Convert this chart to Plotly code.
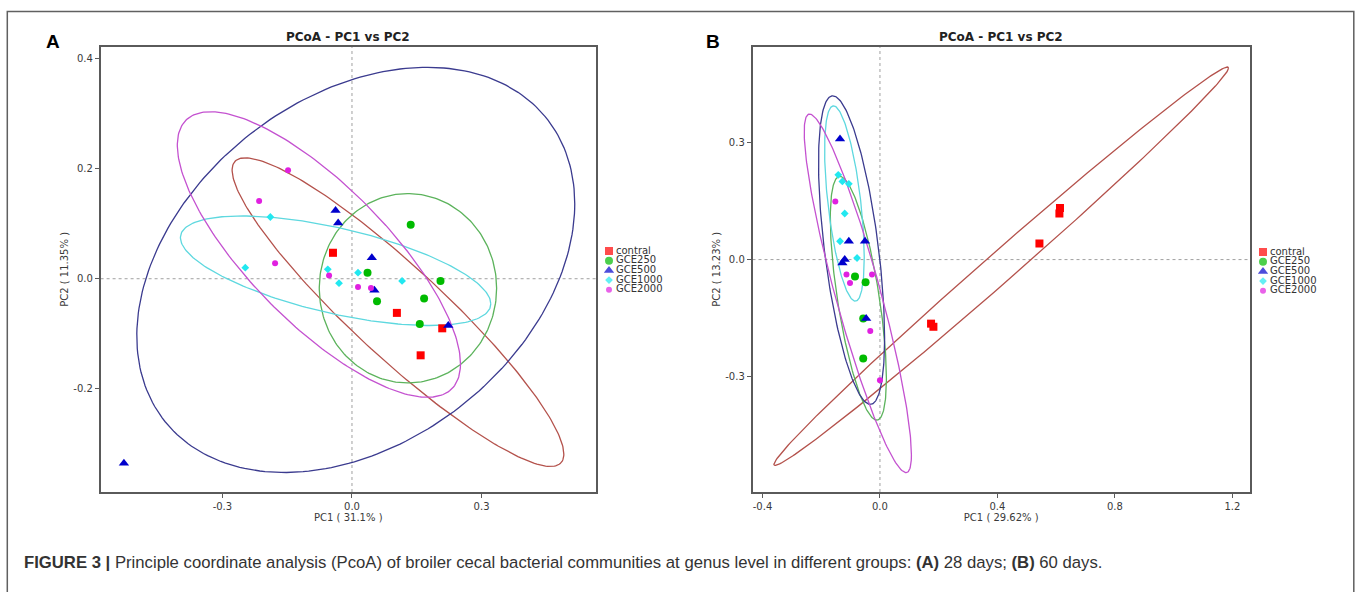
import numpy as np
import plotly.graph_objects as go

# ---------------- data ----------------
GROUPS = ["contral", "GCE250", "GCE500", "GCE1000", "GCE2000"]
MARKER_COLORS = ["#ff0000", "#00bb00", "#0000cc", "#22e8f0", "#e020e0"]
ELLIPSE_COLORS = ["#b4524c", "#5cb35c", "#3b3b8f", "#5ed8df", "#c452d0"]
SYMBOLS = ["square", "circle", "triangle-up", "diamond", "circle"]
SIZES = [8, 8, 9, 6, 6]

# Panel A (28 days)
A_CONTRAL_PC1 = [-0.044, 0.104, 0.209, 0.159]
A_CONTRAL_PC2 = [0.047, -0.062, -0.090, -0.139]
A_GCE250_PC1 = [0.136, 0.036, 0.205, 0.167, 0.058, 0.157]
A_GCE250_PC2 = [0.098, 0.011, -0.004, -0.036, -0.041, -0.082]
A_GCE500_PC1 = [-0.528, -0.038, -0.032, 0.046, 0.052, 0.223]
A_GCE500_PC2 = [-0.335, 0.124, 0.101, 0.038, -0.021, -0.085]
A_GCE1000_PC1 = [-0.247, -0.189, -0.056, -0.030, 0.014, 0.116]
A_GCE1000_PC2 = [0.020, 0.112, 0.017, -0.008, 0.011, -0.004]
A_GCE2000_PC1 = [-0.148, -0.215, -0.178, -0.053, 0.014, 0.044]
A_GCE2000_PC2 = [0.197, 0.141, 0.028, 0.006, -0.015, -0.017]

# Panel A ellipses: centre, half-width, half-height, PC2 offset of the rightmost point
A_ELL_CX = [0.1065, 0.1296, 0.0088, -0.0379, -0.0766]
A_ELL_CY = [-0.0606, -0.0173, 0.0160, 0.0145, 0.0439]
A_ELL_HW = [0.384, 0.2053, 0.507, 0.3593, 0.3278]
A_ELL_HH = [0.280, 0.1718, 0.3676, 0.0994, 0.2591]
A_ELL_RY = [-0.2576, 0.0, 0.120, -0.060, -0.1985]

# Panel B (60 days)
B_CONTRAL_PC1 = [0.174, 0.182, 0.543, 0.613, 0.611]
B_CONTRAL_PC2 = [-0.164, -0.172, 0.041, 0.132, 0.118]
B_GCE250_PC1 = [-0.085, -0.049, -0.057, -0.057]
B_GCE250_PC2 = [-0.043, -0.058, -0.151, -0.253]
B_GCE500_PC1 = [-0.136, -0.106, -0.051, -0.120, -0.128, -0.047]
B_GCE500_PC2 = [0.309, 0.047, 0.047, 0.000, -0.009, -0.151]
B_GCE1000_PC1 = [-0.142, -0.128, -0.106, -0.120, -0.136, -0.078]
B_GCE1000_PC2 = [0.217, 0.200, 0.194, 0.118, 0.047, 0.004]
B_GCE2000_PC1 = [-0.152, -0.114, -0.102, -0.027, -0.033, 0.000]
B_GCE2000_PC2 = [0.149, -0.038, -0.060, -0.038, -0.183, -0.309]

B_ELL_CX = [0.413, -0.0736, -0.0967, -0.121, -0.0754]
B_ELL_CY = [-0.017, -0.0989, 0.0243, 0.1436, -0.0865]
B_ELL_HW = [0.774, 0.0955, 0.1125, 0.0675, 0.1825]
B_ELL_HH = [0.510, 0.312, 0.395, 0.250, 0.459]
B_ELL_RY = [0.5075, -0.205, -0.224, -0.1375, -0.413]

A_XTICKS = [-0.3, 0.0, 0.3]
A_YTICKS = [0.4, 0.2, 0.0, -0.2]
B_XTICKS = [-0.4, 0.0, 0.4, 0.8, 1.2]
B_YTICKS = [0.3, 0.0, -0.3]
A_XTITLE = "PC1 ( 31.1% )"
A_YTITLE = "PC2 ( 11.35% )"
B_XTITLE = "PC1 ( 29.62% )"
B_YTITLE = "PC2 ( 13.23% )"
PANEL_TITLE = "PCoA - PC1 vs PC2"
CAPTION = ("<b>FIGURE 3 |</b> Principle coordinate analysis (PcoA) of broiler cecal bacterial "
           "communities at genus level in different groups: <b>(A)</b> 28 days; <b>(B)</b> 60 days.")

# ---------------- figure ----------------
W, H = 1357, 592
def px_x(p):
    return p / W
def px_y(p):
    return 1 - p / H

fig = go.Figure()

def ellipse(cx, cy, hw, hh, ry):
    d = np.arccos(np.clip(ry / hh, -1, 1))
    t = np.linspace(0, 2 * np.pi, 240)
    return cx + hw * np.cos(t), cy + hh * np.cos(t - d)

A_PTS = [(A_CONTRAL_PC1, A_CONTRAL_PC2), (A_GCE250_PC1, A_GCE250_PC2), (A_GCE500_PC1, A_GCE500_PC2),
         (A_GCE1000_PC1, A_GCE1000_PC2), (A_GCE2000_PC1, A_GCE2000_PC2)]
B_PTS = [(B_CONTRAL_PC1, B_CONTRAL_PC2), (B_GCE250_PC1, B_GCE250_PC2), (B_GCE500_PC1, B_GCE500_PC2),
         (B_GCE1000_PC1, B_GCE1000_PC2), (B_GCE2000_PC1, B_GCE2000_PC2)]

for pts, ell, (xa, ya) in [
    (A_PTS, (A_ELL_CX, A_ELL_CY, A_ELL_HW, A_ELL_HH, A_ELL_RY), ("x", "y")),
    (B_PTS, (B_ELL_CX, B_ELL_CY, B_ELL_HW, B_ELL_HH, B_ELL_RY), ("x2", "y2")),
]:
    for i, g in enumerate(GROUPS):
        ex, ey = ellipse(ell[0][i], ell[1][i], ell[2][i], ell[3][i], ell[4][i])
        fig.add_trace(go.Scatter(x=ex, y=ey, mode="lines", xaxis=xa, yaxis=ya,
                                 line=dict(color=ELLIPSE_COLORS[i], width=1.3),
                                 showlegend=False, hoverinfo="skip"))
    for i, g in enumerate(GROUPS):
        fig.add_trace(go.Scatter(x=pts[i][0], y=pts[i][1], mode="markers", name=g,
                                 xaxis=xa, yaxis=ya, showlegend=False,
                                 marker=dict(symbol=SYMBOLS[i], size=SIZES[i],
                                             color=MARKER_COLORS[i], line=dict(width=0))))

# manual compact legends on hidden axes
for xa, ya in [("x3", "y3"), ("x4", "y4")]:
    fig.add_trace(go.Scatter(x=[0] * len(GROUPS), y=list(range(len(GROUPS))), mode="markers",
                             xaxis=xa, yaxis=ya, showlegend=False, hoverinfo="skip",
                             marker=dict(symbol=SYMBOLS, size=SIZES, color=MARKER_COLORS,
                                         line=dict(width=0))))
    fig.add_trace(go.Scatter(x=[7] * len(GROUPS), y=list(range(len(GROUPS))), mode="text",
                             text=GROUPS, textposition="middle right",
                             textfont=dict(family="DejaVu Sans", size=10, color="#333333"),
                             xaxis=xa, yaxis=ya, showlegend=False, hoverinfo="skip"))

tickfont = dict(family="DejaVu Sans", size=10, color="#3a3a3a")
titlefont = dict(family="DejaVu Sans", size=10, color="#3a3a3a")
axis_common = dict(showgrid=False, zeroline=False, showline=True, mirror=True,
                   linecolor="#5a5a5a", linewidth=1.5, ticks="outside", ticklen=4,
                   tickcolor="#5a5a5a", tickwidth=1, tickfont=tickfont)

A_DOM_X = [px_x(100.6), px_x(596)]
B_DOM_X = [px_x(752.5), px_x(1250)]
DOM_Y = [px_y(492), px_y(46.7)]

fig.update_layout(
    width=W, height=H, autosize=False,
    margin=dict(l=0, r=0, t=0, b=0),
    paper_bgcolor="white", plot_bgcolor="white",
    xaxis=dict(domain=A_DOM_X, range=[-0.582, 0.565], tickvals=A_XTICKS,
               ticktext=[f"{v:.1f}" for v in A_XTICKS], anchor="y",
               title=dict(text=A_XTITLE, font=titlefont, standoff=3), **axis_common),
    yaxis=dict(domain=DOM_Y, range=[-0.387, 0.421], tickvals=A_YTICKS,
               ticktext=[f"{v:.1f}" for v in A_YTICKS], anchor="x",
               title=dict(text=A_YTITLE, font=titlefont, standoff=3), **axis_common),
    xaxis2=dict(domain=B_DOM_X, range=[-0.434, 1.26], tickvals=B_XTICKS,
                ticktext=[f"{v:.1f}" for v in B_XTICKS], anchor="y2",
                title=dict(text=B_XTITLE, font=titlefont, standoff=3), **axis_common),
    yaxis2=dict(domain=DOM_Y, range=[-0.595, 0.545], tickvals=B_YTICKS,
                ticktext=[f"{v:.1f}" for v in B_YTICKS], anchor="x2",
                title=dict(text=B_YTITLE, font=titlefont, standoff=3), **axis_common),
    xaxis3=dict(domain=[px_x(604), px_x(700)], range=[-5, 91], visible=False, fixedrange=True),
    yaxis3=dict(domain=[px_y(294.65), px_y(246.15)], range=[4.5, -0.5], visible=False,
                anchor="x3", fixedrange=True),
    xaxis4=dict(domain=[px_x(1258), px_x(1350)], range=[-5, 87], visible=False, fixedrange=True),
    yaxis4=dict(domain=[px_y(295.65), px_y(247.15)], range=[4.5, -0.5], visible=False,
                anchor="x4", fixedrange=True),
    showlegend=False,
)
fig.update_layout(xaxis3_anchor="y3", xaxis4_anchor="y4")

shapes = []
# dotted zero lines
for xr, yr in [("x", "y"), ("x2", "y2")]:
    shapes.append(dict(type="line", xref=xr, yref=f"{yr} domain", x0=0, x1=0, y0=0, y1=1,
                       line=dict(color="#a0a0a0", width=1, dash="dot"), layer="below"))
    shapes.append(dict(type="line", xref=f"{xr} domain", yref=yr, x0=0, x1=1, y0=0, y1=0,
                       line=dict(color="#a0a0a0", width=1, dash="dot"), layer="below"))
# outer figure frame
shapes.append(dict(type="rect", xref="paper", yref="paper", x0=px_x(7.3), x1=px_x(1353.8),
                   y0=px_y(620), y1=px_y(11.5), line=dict(color="#606060", width=1.5)))
fig.update_layout(shapes=shapes)

annotations = [
    dict(text=f"<b>{PANEL_TITLE}</b>", x=sum(A_DOM_X) / 2, y=px_y(37), xref="paper", yref="paper",
         showarrow=False, xanchor="center", yanchor="middle",
         font=dict(family="DejaVu Sans", size=12, color="#222222")),
    dict(text=f"<b>{PANEL_TITLE}</b>", x=sum(B_DOM_X) / 2, y=px_y(37), xref="paper", yref="paper",
         showarrow=False, xanchor="center", yanchor="middle",
         font=dict(family="DejaVu Sans", size=12, color="#222222")),
    dict(text="<b>A</b>", x=px_x(53), y=px_y(41), xref="paper", yref="paper", showarrow=False,
         xanchor="center", yanchor="middle", font=dict(family="Liberation Sans", size=19, color="black")),
    dict(text="<b>B</b>", x=px_x(713), y=px_y(41), xref="paper", yref="paper", showarrow=False,
         xanchor="center", yanchor="middle", font=dict(family="Liberation Sans", size=19, color="black")),
    dict(text=CAPTION, x=px_x(22), y=px_y(562), xref="paper", yref="paper", showarrow=False,
         xanchor="left", yanchor="middle",
         font=dict(family="Liberation Sans Narrow, Arial Narrow, Liberation Sans", size=16.7,
                   color="#333333")),
]
fig.update_layout(annotations=annotations)

fig.write_html("out.html", config={"displayModeBar": False},
               post_script="document.body.style.margin='0px';document.body.style.overflow='hidden';")
